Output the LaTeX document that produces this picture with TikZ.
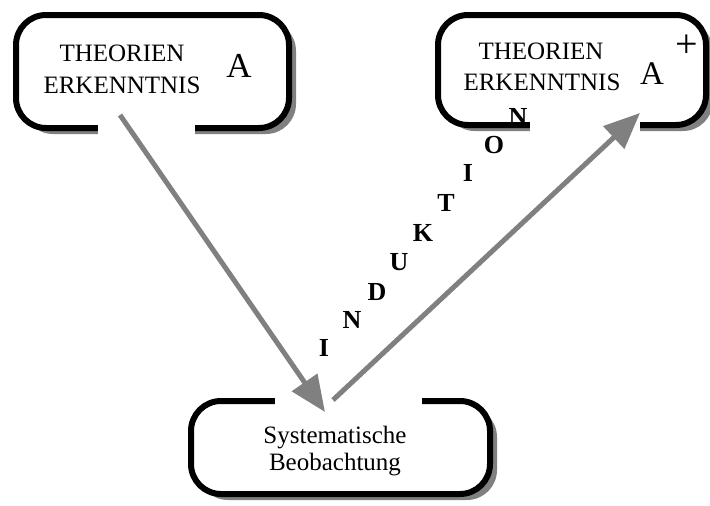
\documentclass[tikz,border=0pt]{standalone}
\usepackage{fontspec}
\setmainfont{Liberation Serif}
\usetikzlibrary{arrows.meta,shadows}
\tikzset{
 box/.style={draw=black, line width=6pt, rounded corners=30pt, fill=white,
   drop shadow={shadow xshift=7pt, shadow yshift=-6pt, fill=gray, opacity=1},
   inner sep=0pt, outer sep=0pt},
 txt/.style={font=\fontsize{25}{30}\selectfont, inner sep=0pt, anchor=base},
 bigA/.style={font=\fontsize{35}{40}\selectfont, inner sep=0pt, anchor=base},
 ltr/.style={font=\fontsize{26}{28}\selectfont\bfseries, inner sep=0pt},
 gapbox/.style={fill=white},
 arr/.style={draw=gray, line width=5pt, -{Triangle[length=36pt,width=30pt]}}
}
\begin{document}
\begin{tikzpicture}[x=1pt,y=-1pt]
\useasboundingbox (0,0) rectangle (710,506);
% boxes
\node[box, minimum width=273pt, minimum height=113pt] (b1) at (152.5,71.5) {};
\node[box, minimum width=268pt, minimum height=110pt] (b2) at (572,70) {};
\node[box, minimum width=299pt, minimum height=93pt] (b3) at (340.5,447.5) {};
% gaps in the borders
\fill[gapbox] (98,114) rectangle (195,142);
\fill[gapbox] (530,114) rectangle (640,142);
\fill[gapbox] (275,388) rectangle (422,412);
% texts
\node[txt] (t1a) at (122,61) {THEORIEN};
\node[txt] (t1b) at (122,93) {ERKENNTNIS};
\node[bigA] (a1) at (239,77) {A};
\node[txt] (t2a) at (541,59) {THEORIEN};
\node[txt] (t2b) at (542,90) {ERKENNTNIS};
\node[bigA, font=\fontsize{33}{38}\selectfont] (a2) at (652,84) {A};
\node[font=\fontsize{40}{44}\selectfont, inner sep=0pt] (plus) at (687,46) {+};
\node[txt] (t3a) at (335,443) {Systematische};
\node[txt] (t3b) at (335,470) {Beobachtung};
% arrows
\coordinate (s1) at (120,115);
\coordinate (e1) at (325,412);
\coordinate (s2) at (333,400);
\coordinate (e2) at (640,113);
\draw[arr] (s1) -- (e1);
\draw[arr] (s2) -- (e2);
% INDUKTION
\node[ltr] (l1) at (324,348) {I};
\node[ltr] (l2) at (352,320) {N};
\node[ltr] (l3) at (377,292) {D};
\node[ltr] (l4) at (399,262) {U};
\node[ltr] (l5) at (423,233) {K};
\node[ltr] (l6) at (446,203) {T};
\node[ltr] (l7) at (468,173) {I};
\node[ltr] (l8) at (494,145) {O};
\node[ltr] (l9) at (518,117) {N};
\end{tikzpicture}
\end{document}
